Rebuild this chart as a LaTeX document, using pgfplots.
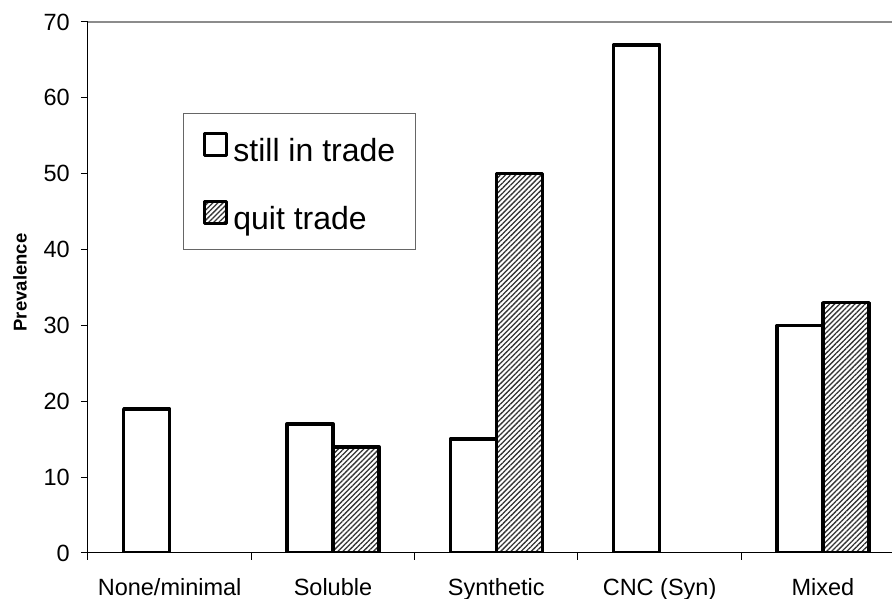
\documentclass[border=0pt]{standalone}
\usepackage{fontspec}
\setmainfont{Liberation Sans}
\usepackage{pgfplots}
\pgfplotsset{compat=1.18}
\usetikzlibrary{patterns.meta}
\begin{document}
\begin{tikzpicture}
\begin{axis}[
  scale only axis,
  width=804pt, height=531pt,
  xmin=-0.5, xmax=4.423,
  ymin=0, ymax=70,
  ytick={0,10,...,70},
  /pgf/number format/assume math mode=true,
  axis x line*=bottom, axis y line*=left,
  axis line style={black, line width=1pt},
  tick align=outside,
  major tick length=7pt,
  tick style={black, line width=1pt},
  xtick={-0.5,0.5,1.5,2.5,3.5},
  xticklabels={},
  extra x ticks={0,1,2,3,4},
  extra x tick labels={None/minimal,Soluble,Synthetic,CNC (Syn),Mixed},
  extra x tick style={major tick length=0pt, tick style={draw=none}},
  xticklabel style={font=\fontsize{23.5}{28}\selectfont, inner sep=0pt, yshift=-25pt},
  yticklabel style={font=\fontsize{23.5}{28}\selectfont, inner sep=0pt, xshift=-11pt},
  extra y ticks={70},
  extra y tick labels={},
  extra y tick style={grid=major, grid style={black!45, line width=1.2pt}},
  ylabel={\textbf{Prevalence}},
  every axis y label/.style={at={(axis description cs:0,0.5)}, xshift=-68pt, yshift=5pt, rotate=90, anchor=center, font=\fontsize{18.5}{22}\selectfont},
  ybar=0pt,
  bar width=46pt,
  legend image code/.code={\draw[#1, line width=3pt] (0pt,-7pt) rectangle (22pt,15pt);},
  legend style={at={(axis description cs:0,1)}, anchor=north west, xshift=95pt, yshift=-91pt,
    draw=black!60, line width=0.8pt, inner xsep=20pt, inner ysep=19pt,
    font=\fontsize{32}{36}\selectfont, row sep=37pt,
    nodes={text height=27pt, text depth=1pt, inner sep=0pt},
    /tikz/every odd column/.append style={column sep=5pt}},
  legend cell align=left,
]
\addplot[draw=black, fill=white, line width=3.5pt, line join=round] coordinates {(0,19) (1,17) (2,15) (3,67) (4,30)};
\addplot[draw=black, line width=3.5pt, line join=round, pattern={Lines[angle=45,distance=3.6pt,line width=1.3pt]}, pattern color=black!80] coordinates {(1,14) (2,50) (4,33)};
\legend{still in trade, quit trade}
\end{axis}
\pgfresetboundingbox
\path[use as bounding box] ([xshift=-88pt,yshift=-46pt]current axis.south west) rectangle ([xshift=804pt,yshift=553pt]current axis.south west);
\end{tikzpicture}
\end{document}
